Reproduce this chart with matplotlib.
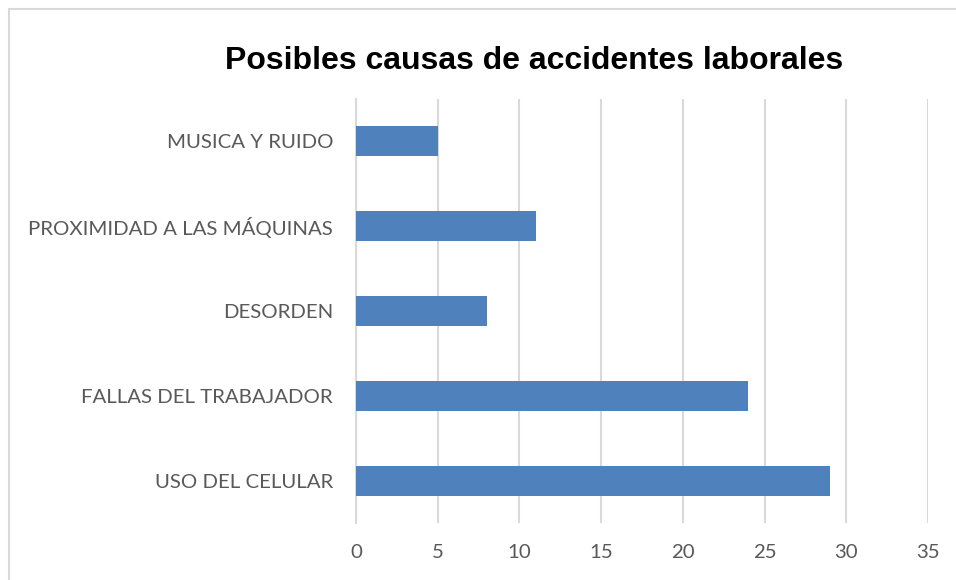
import matplotlib
matplotlib.use("Agg")
import matplotlib.pyplot as plt
from matplotlib.patches import Rectangle

categories = ["USO DEL CELULAR", "FALLAS DEL TRABAJADOR", "DESORDEN",
              "PROXIMIDAD A LAS MÁQUINAS", "MUSICA Y RUIDO"]
values = [29, 24, 8, 11, 5]
xticks = [0, 5, 10, 15, 20, 25, 30, 35]
title = "Posibles causas de accidentes laborales"

fig = plt.figure(figsize=(9.56, 5.8), dpi=100)
fig.patches.append(Rectangle((9/956, -0.1), 1.2, (580-8.5)/580 + 0.1,
                             transform=fig.transFigure, fill=False,
                             edgecolor="#d9d9d9", linewidth=1.5))

ax = fig.add_axes([356/956, 57/580, 572/956, 424/580])
ypos = list(range(len(categories)))
ax.barh(ypos, values, height=0.355, color="#4f81bd", zorder=3)
ax.set_xlim(0, 35)
ax.set_ylim(-0.5, len(categories) - 0.5)
ax.set_xticks(xticks)
ax.set_xticklabels([str(t) for t in xticks])
ax.set_yticks(ypos)
ax.set_yticklabels(categories)
for s in ["top", "right", "bottom"]:
    ax.spines[s].set_visible(False)
ax.spines["left"].set_color("#d9d9d9")
ax.spines["left"].set_linewidth(1.5)
ax.xaxis.grid(True, color="#d9d9d9", linewidth=1.5, zorder=0)
ax.tick_params(axis="both", length=0, labelcolor="#595959", labelsize=14.7)
ax.tick_params(axis="y", pad=16.5)
ax.tick_params(axis="x", pad=15)
for lab in ax.get_xticklabels() + ax.get_yticklabels():
    lab.set_family("Lato")

fig.text(534/956, 1 - 61/580, title, ha="center", va="center",
         fontsize=23, fontweight="bold", family="Liberation Sans", color="black")

fig.savefig("out.png", dpi=100)
